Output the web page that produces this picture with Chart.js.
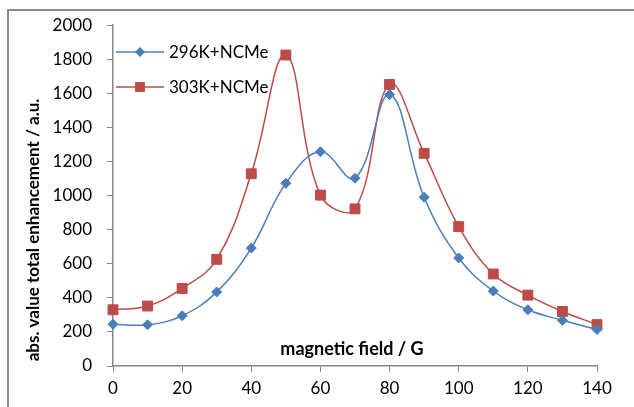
<!DOCTYPE html>
<html>
<head>
<meta charset="utf-8">
<script src="https://cdn.jsdelivr.net/npm/chart.js@4.4.0/dist/chart.umd.min.js"></script>
<style>
  html, body { margin: 0; padding: 0; background: #fff; }
  #wrap { width: 634px; height: 407px; position: relative; }
</style>
</head>
<body>
<div id="wrap"><canvas id="enhChart"></canvas></div>
<script>
// magnetic field (G)
const fieldG = [0, 10, 20, 30, 40, 50, 60, 70, 80, 90, 100, 110, 120, 130, 140];
// abs. value total enhancement (a.u.)
const k296 = [245, 242, 295, 435, 692, 1072, 1257, 1102, 1593, 990, 634, 440, 330, 268, 214];
const k303 = [330, 352, 455, 626, 1128, 1825, 1003, 922, 1652, 1248, 818, 540, 416, 320, 243];
const seriesNames = ['296K+NCMe', '303K+NCMe'];
const yTicks = [0, 200, 400, 600, 800, 1000, 1200, 1400, 1600, 1800, 2000];
const xTicks = [0, 20, 40, 60, 80, 100, 120, 140];

const FONT = 'Lato, "Open Sans", sans-serif';
const AXIS_GREY = '#868686';
const BLUE = '#4A7EBB';
const RED = '#BE4B48';

// frame, axis titles and inset legend
const decorations = {
    id: 'decorations',
    afterDraw(chart) {
        const ctx = chart.ctx;
        ctx.save();

        // outer frame (left and top edges only visible)
        ctx.strokeStyle = '#8a8a8a';
        ctx.lineWidth = 2;
        ctx.beginPath();
        ctx.moveTo(8, 407);
        ctx.lineTo(8, 10);
        ctx.lineTo(634, 10);
        ctx.stroke();

        // y title
        ctx.fillStyle = '#000';
        ctx.font = 'bold 17px ' + FONT;
        ctx.textAlign = 'center';
        ctx.textBaseline = 'middle';
        ctx.translate(34, 230);
        ctx.rotate(-Math.PI / 2);
        ctx.fillText('abs. value total enhancement / a.u.', 0, 0);
        ctx.setTransform(1, 0, 0, 1, 0, 0);

        // x title sits inside the plot, just above the axis
        ctx.font = 'bold 18px ' + FONT;
        ctx.fillText('magnetic field / G', 352, 349);

        // legend
        ctx.font = '17px ' + FONT;
        ctx.textAlign = 'left';
        chart.data.datasets.forEach((ds, i) => {
            const y = 52 + i * 35;
            ctx.strokeStyle = ds.borderColor;
            ctx.lineWidth = ds.borderWidth;
            ctx.beginPath();
            ctx.moveTo(116, y);
            ctx.lineTo(164, y);
            ctx.stroke();
            ctx.fillStyle = ds.pointBackgroundColor;
            Chart.helpers.drawPoint(ctx, {
                pointStyle: ds.pointStyle,
                radius: ds.pointRadius,
                rotation: 0,
                borderWidth: 0
            }, 140, y);
            ctx.fillStyle = '#000';
            ctx.fillText(ds.label, 169, y + 1);
        });
        ctx.restore();
    }
};

const ctxEnh = document.getElementById('enhChart').getContext('2d');
new Chart(ctxEnh, {
    type: 'line',
    data: {
        datasets: [
            {
                label: seriesNames[0],
                data: fieldG.map((x, i) => ({ x: x, y: k296[i] })),
                borderColor: BLUE,
                backgroundColor: BLUE,
                pointBackgroundColor: BLUE,
                pointBorderColor: BLUE,
                pointStyle: 'rectRot',
                pointRadius: 5,
                pointBorderWidth: 1,
                borderWidth: 1.5,
                tension: 0.4
            },
            {
                label: seriesNames[1],
                data: fieldG.map((x, i) => ({ x: x, y: k303[i] })),
                borderColor: RED,
                backgroundColor: RED,
                pointBackgroundColor: RED,
                pointBorderColor: RED,
                pointStyle: 'rect',
                pointRadius: 7,
                pointBorderWidth: 1,
                borderWidth: 1.5,
                tension: 0.4
            }
        ]
    },
    options: {
        responsive: true,
        maintainAspectRatio: false,
        animation: false,
        clip: false,
        layout: { padding: { top: 23, right: 37, left: 0, bottom: 0 } },
        plugins: {
            legend: { display: false },
            tooltip: { enabled: false }
        },
        scales: {
            x: {
                type: 'linear',
                min: 0,
                max: 140,
                afterBuildTicks: s => { s.ticks = xTicks.map(v => ({ value: v })); },
                afterFit: s => { s.height = 41; },
                grid: { drawOnChartArea: false, drawTicks: true, tickLength: 6, color: AXIS_GREY },
                border: { color: AXIS_GREY, width: 1.5 },
                ticks: { color: '#000', padding: 6, font: { family: FONT, size: 17 }, maxRotation: 0,
                         callback: v => String(v) }
            },
            y: {
                min: 0,
                max: 2000,
                afterBuildTicks: s => { s.ticks = yTicks.map(v => ({ value: v })); },
                afterFit: s => { s.width = 113; },
                grid: { drawOnChartArea: false, drawTicks: true, tickLength: 6, color: AXIS_GREY },
                border: { color: AXIS_GREY, width: 1.5 },
                ticks: { color: '#000', padding: 15, font: { family: FONT, size: 17 },
                         callback: v => String(v) }
            }
        }
    },
    plugins: [decorations]
});
</script>
</body>
</html>
